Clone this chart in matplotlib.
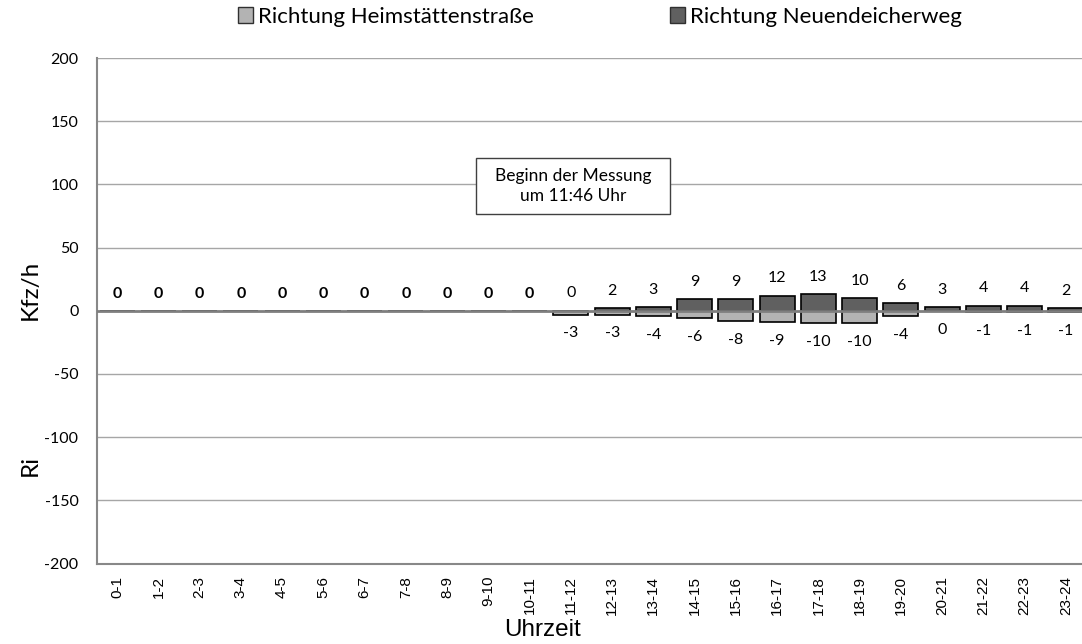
import matplotlib
matplotlib.use("Agg")
import matplotlib.pyplot as plt
from matplotlib.patches import Patch, Rectangle

categories = ['0-1', '1-2', '2-3', '3-4', '4-5', '5-6', '6-7', '7-8', '8-9', '9-10',
              '10-11', '11-12', '12-13', '13-14', '14-15', '15-16', '16-17', '17-18',
              '18-19', '19-20', '20-21', '21-22', '22-23', '23-24']
neuendeicherweg = [0, 0, 0, 0, 0, 0, 0, 0, 0, 0, 0,
                   0, 2, 3, 9, 9, 12, 13, 10, 6, 3, 4, 4, 2]
heimstaettenstrasse = [0, 0, 0, 0, 0, 0, 0, 0, 0, 0, 0,
                       -3, -3, -4, -6, -8, -9, -10, -10, -4, 0, -1, -1, -1]
measured = [False] * 11 + [True] * 13
yticks = [-200, -150, -100, -50, 0, 50, 100, 150, 200]

LIGHT = '#b3b3b3'
DARK = '#606060'
CAL = ['Lato', 'DejaVu Sans']
ARIAL = ['Liberation Sans', 'DejaVu Sans']
W, H = 1082, 644

fig = plt.figure(figsize=(10.82, 6.44), dpi=100)
ax = fig.add_axes([96.5 / W, 80.5 / H, 990 / W, 505.5 / H])

x = list(range(len(categories)))
ax.bar(x, neuendeicherweg, width=0.85, color=DARK, edgecolor='black', linewidth=1.2, zorder=3)
ax.bar(x, heimstaettenstrasse, width=0.85, color=LIGHT, edgecolor='black', linewidth=1.2, zorder=3)

ax.set_xlim(-0.5, len(categories) - 0.5)
ax.set_ylim(-200, 200)
ax.set_yticks(yticks)
ax.set_yticklabels([str(v) for v in yticks], fontsize=11.5, family=CAL)
ax.set_xticks(x)
ax.set_xticklabels(categories, rotation=90, fontsize=11, family=ARIAL)
ax.tick_params(axis='both', length=0)
ax.tick_params(axis='x', pad=9)
ax.tick_params(axis='y', pad=13)

for y in yticks:
    if y == 0:
        ax.axhline(0, color='#7f7f7f', linewidth=2, zorder=4)
    elif y != -200:
        ax.axhline(y, color='#a6a6a6', linewidth=1, zorder=1)

for s in ['top', 'right']:
    ax.spines[s].set_visible(False)
ax.spines['left'].set_color('#888888')
ax.spines['bottom'].set_color('#888888')
ax.spines['left'].set_linewidth(1.5)
ax.spines['bottom'].set_linewidth(1.5)

for i in x:
    if measured[i]:
        ax.annotate(str(neuendeicherweg[i]), (i, neuendeicherweg[i]), xytext=(0, 12.5),
                    textcoords='offset points', ha='center', va='center',
                    fontsize=11.5, family=CAL)
        ax.annotate(str(heimstaettenstrasse[i]), (i, heimstaettenstrasse[i]), xytext=(0, -13.5),
                    textcoords='offset points', ha='center', va='center',
                    fontsize=11.5, family=CAL)
    else:
        ax.annotate(str(neuendeicherweg[i]), (i, neuendeicherweg[i]), xytext=(0, 12),
                    textcoords='offset points', ha='center', va='center',
                    fontsize=11.5, family=CAL, fontweight='bold')

# annotation box
fig.patches.append(Rectangle((476 / W, 1 - 214 / H), 194 / W, 56 / H, transform=fig.transFigure,
                             facecolor='white', edgecolor='#404040', linewidth=1, zorder=5))
fig.text(573 / W, 1 - 186 / H, 'Beginn der Messung\num 11:46 Uhr', ha='center', va='center',
         fontsize=12.5, family=CAL, linespacing=1.25, zorder=6)

fig.text(30 / W, 1 - 290 / H, 'Kfz/h', rotation=90, ha='center', va='center',
         fontsize=17.5, family=CAL)
fig.text(30 / W, 1 - 465 / H, 'Ri', rotation=90, ha='center', va='center',
         fontsize=17.5, family=CAL)
fig.text(542 / W, 1 - 630 / H, 'Uhrzeit', ha='center', va='center',
         fontsize=17.5, family=ARIAL)

handles = [Patch(facecolor=LIGHT, edgecolor='#303030', linewidth=1),
           Patch(facecolor=DARK, edgecolor='#303030', linewidth=1)]
fig.legend(handles, ['Richtung Heimstättenstraße', 'Richtung Neuendeicherweg'],
           loc='center', bbox_to_anchor=(600 / W, 1 - 17 / H), ncol=2, frameon=False,
           handlelength=0.7, handleheight=0.7, handletextpad=0.22, columnspacing=6.1,
           borderpad=0, borderaxespad=0, prop={'family': CAL, 'size': 16})

fig.savefig('out.png', dpi=100)
